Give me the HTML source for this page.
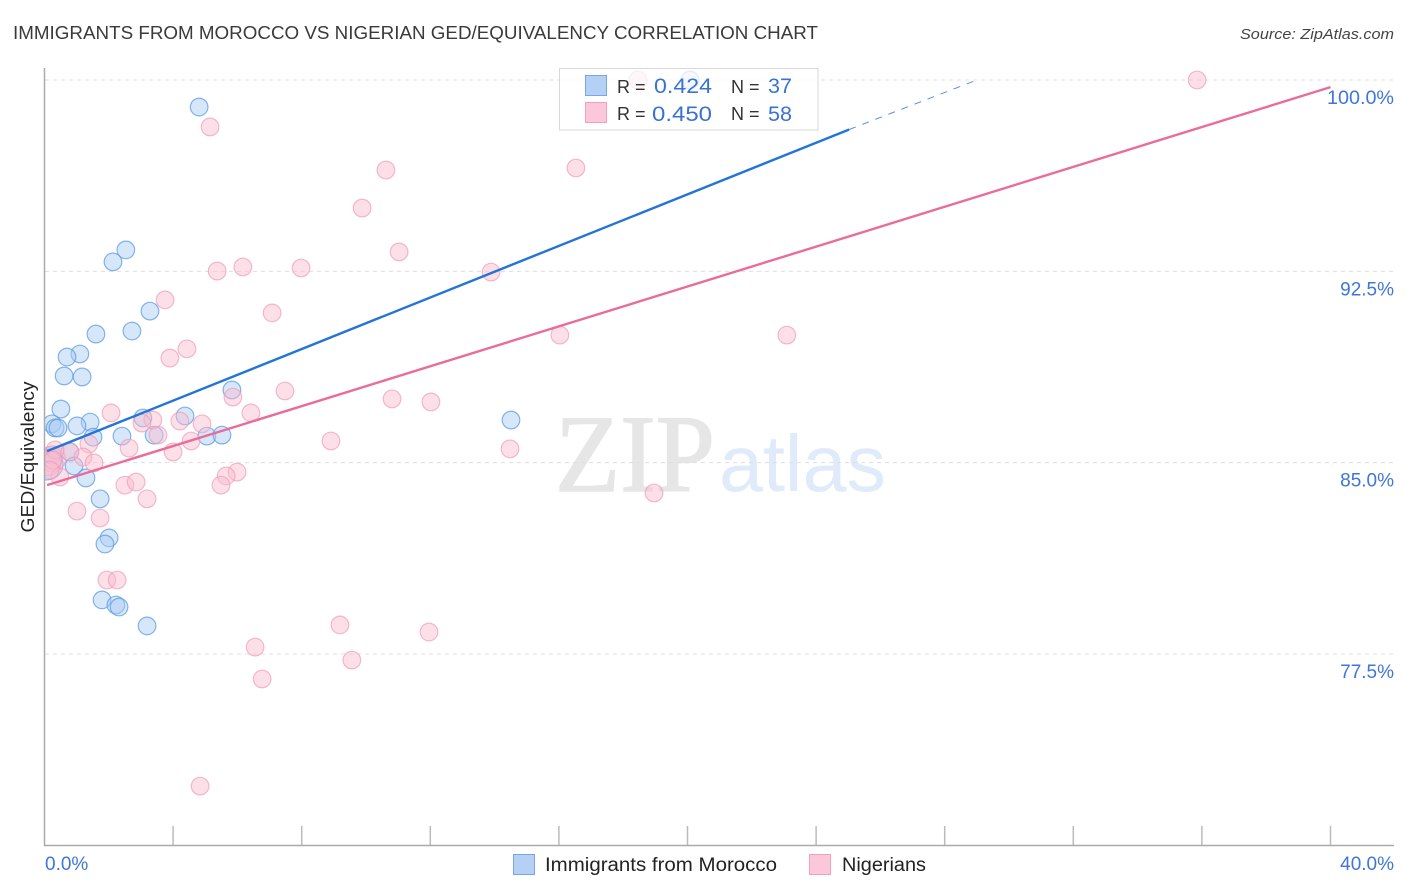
<!DOCTYPE html>
<html lang="en">
<head>
<meta charset="utf-8">
<title>Immigrants from Morocco vs Nigerian GED/Equivalency Correlation Chart</title>
<style>
html,body{margin:0;padding:0;background:#fff;width:1406px;height:892px;overflow:hidden}
svg{display:block;font-family:"Liberation Sans",sans-serif}
</style>
</head>
<body>
<svg id="chart" width="1406" height="892" viewBox="0 0 1406 892" xmlns="http://www.w3.org/2000/svg">
  <defs>
    <clipPath id="plot-clip"><rect x="45" y="60" width="1349" height="785"/></clipPath>
  </defs>
  <rect x="0" y="0" width="1406" height="892" fill="#ffffff"/>
  <text x="13" y="39" font-size="18" fill="#3a3a3a" textLength="805" lengthAdjust="spacingAndGlyphs">IMMIGRANTS FROM MOROCCO VS NIGERIAN GED/EQUIVALENCY CORRELATION CHART</text>
  <text x="1394" y="39" font-size="15" font-style="italic" fill="#444444" text-anchor="end" textLength="154" lengthAdjust="spacingAndGlyphs">Source: ZipAtlas.com</text>

  <g>
    <text x="555" y="491" font-family="'Liberation Serif',serif" font-size="110" fill="#e6e6e6" stroke="#e6e6e6" stroke-width="1.5" textLength="160" lengthAdjust="spacingAndGlyphs">ZIP</text>
    <text x="719" y="491" font-size="80" fill="#dfeafa" textLength="167" lengthAdjust="spacingAndGlyphs">atlas</text>
  </g>

  <g id="grid"></g>
  <g id="x-ticks"></g>
  <g id="points" clip-path="url(#plot-clip)"></g>
  <g id="trends" clip-path="url(#plot-clip)"></g>
  <line x1="44.5" y1="68" x2="44.5" y2="846" stroke="#aaaaaa" stroke-width="1.5"/>
  <line x1="44" y1="845.5" x2="1394" y2="845.5" stroke="#aaaaaa" stroke-width="1.5"/>
  <g id="y-labels"></g>
  <g id="x-labels"></g>
  <text x="0" y="0" transform="translate(34,457) rotate(-90)" font-size="18" fill="#222222" text-anchor="middle" textLength="151" lengthAdjust="spacingAndGlyphs">GED/Equivalency</text>

  <g>
    <rect x="559.5" y="68.5" width="258.500" height="61.500" fill="#ffffff" fill-opacity="0.75" stroke="#d9d9d9" stroke-width="1"/>
    <rect x="585.500" y="75.500" width="21" height="20" fill="#b5d0f5" stroke="#7ba6e6" stroke-width="1"/>
    <rect x="585.500" y="102.500" width="21" height="20" fill="#fcc8d9" stroke="#f0a0bb" stroke-width="1"/>
    <text x="617" y="93" font-size="18" fill="#333333">R =</text>
    <text x="654" y="93" font-size="21" fill="#3a72d4" textLength="58" lengthAdjust="spacingAndGlyphs">0.424</text>
    <text x="731" y="93" font-size="18" fill="#333333">N =</text>
    <text x="768" y="93" font-size="21" fill="#3a72d4" textLength="24" lengthAdjust="spacingAndGlyphs">37</text>
    <text x="617" y="120" font-size="18" fill="#333333">R =</text>
    <text x="652" y="121" font-size="21" fill="#3a72d4" textLength="60" lengthAdjust="spacingAndGlyphs">0.450</text>
    <text x="731" y="120" font-size="18" fill="#333333">N =</text>
    <text x="768" y="121" font-size="21" fill="#3a72d4" textLength="24" lengthAdjust="spacingAndGlyphs">58</text>
  </g>

  <g>
    <rect x="513.500" y="854.500" width="21" height="20" fill="#b5d0f5" stroke="#7ba6e6" stroke-width="1"/>
    <text x="545" y="871" font-size="19" fill="#222222" textLength="232" lengthAdjust="spacingAndGlyphs">Immigrants from Morocco</text>
    <rect x="809.500" y="854.500" width="21" height="20" fill="#fcc8d9" stroke="#f0a0bb" stroke-width="1"/>
    <text x="842" y="871" font-size="19" fill="#222222" textLength="84" lengthAdjust="spacingAndGlyphs">Nigerians</text>
  </g>
</svg>
<script>
var yTicks = [100, 92.5, 85, 77.5];
var yTickLabels = ["100.0%", "92.5%", "85.0%", "77.5%"];
var xTickValues = [0, 4, 8, 12, 16, 20, 24, 28, 32, 36, 40];
var xEndValues = [0, 40];
var xEndLabels = ["0.0%", "40.0%"];

var moroccoX = [4.81,2.53,2.13,3.28,2.72,1.60,1.10,0.70,0.61,1.17,5.83,0.51,1.42,1.01,0.23,0.33,0.42,3.06,4.37,14.51,2.41,1.51,3.41,5.05,5.52,0.79,0.92,0.23,1.29,1.73,2.01,1.88,1.79,2.22,2.32,3.19,20.08];
var moroccoY = [98.94,93.34,92.87,90.94,90.16,90.04,89.26,89.14,88.40,88.36,87.85,87.10,86.59,86.44,86.52,86.36,86.36,86.75,86.83,86.67,86.04,86.00,86.08,86.04,86.08,85.42,84.87,85.30,84.40,83.58,82.05,81.81,79.62,79.42,79.34,78.60,100.0];
var moroccoClusterX = [0.08];
var moroccoClusterY = [84.95];

var nigerianX = [2.07,5.86,7.48,6.42,4.90,4.21,3.37,3.03,3.53,1.38,2.63,4.56,4.00,0.79,1.20,1.54,0.33,0.26,0.48,0.17,2.50,2.85,3.19,1.01,1.73,5.99,5.65,5.49,1.94,2.26,5.15,10.62,9.88,11.03,5.37,6.17,7.98,3.75,7.08,13.89,16.53,3.90,4.43,16.03,23.09,10.81,12.02,8.91,14.48,18.96,9.19,9.56,11.96,6.55,6.77,4.84,18.46,35.85];
var nigerianY = [86.95,87.57,87.81,86.95,86.52,86.63,86.67,86.55,86.08,85.73,85.57,85.85,85.42,85.42,85.22,84.99,85.50,85.10,84.44,84.71,84.12,84.24,83.58,83.10,82.83,84.63,84.48,84.12,80.40,80.40,98.16,96.47,94.98,93.26,92.51,92.67,92.63,91.38,90.87,92.47,96.55,89.10,89.46,90.00,90.00,87.50,87.38,85.85,85.54,83.81,78.64,77.26,78.36,77.77,76.52,72.32,100.0,100.0];
var nigerianClusterX = [0.25, 0.1];
var nigerianClusterY = [85.15, 85.0];

var moroccoTrendX = [0.08, 25.03];
var moroccoTrendY = [85.45, 98.06];
var moroccoDashX = [25.03, 29.0];
var moroccoDashY = [98.06, 100.0];
var nigerianTrendX = [0.08, 40.0];
var nigerianTrendY = [84.12, 99.72];

var NS = "http://www.w3.org/2000/svg";
function xScale(v) { return 44.5 + v * 32.15; }
function yScale(v) { return 80 + (100 - v) * 25.51; }
function make(tag, attrs, parent) {
  var el = document.createElementNS(NS, tag);
  for (var k in attrs) { el.setAttribute(k, attrs[k]); }
  parent.appendChild(el);
  return el;
}

var gridG = document.getElementById("grid");
var yLabelG = document.getElementById("y-labels");
yTicks.forEach(function (t, i) {
  var gl = make("line", {x1: 45, x2: 1394, y1: yScale(t), y2: yScale(t), stroke: "#dfdfdf", "stroke-width": 1, "stroke-dasharray": "4 4"}, gridG);
  
  
  var lb = make("text", {x: 1394, y: yScale(t) + 24, "font-size": 19, fill: "#3f76d8", "text-anchor": "end"}, yLabelG);
  lb.textContent = yTickLabels[i];
  if (i === 0) { lb.setAttribute("textLength", 67); lb.setAttribute("lengthAdjust", "spacingAndGlyphs"); }
  
  
});

var xTickG = document.getElementById("x-ticks");
xTickValues.forEach(function (t) {
  if (t === 0) { return; }
  var tk = make("line", {x1: xScale(t), x2: xScale(t), y1: 826, y2: 845, stroke: "#bbbbbb", "stroke-width": 1.5}, xTickG);
  
  
});

var xLabelG = document.getElementById("x-labels");
xEndValues.forEach(function (t, i) {
  var lb = make("text", {x: i === 0 ? xScale(t) + 0.5 : 1394, y: 870, "font-size": 19, fill: "#3f76d8", "text-anchor": i === 0 ? "start" : "end"}, xLabelG);
  lb.textContent = xEndLabels[i];
  
  
});

var pointsG = document.getElementById("points");
var blueStyle = {fill: "#a9cbf5", "fill-opacity": 0.47, stroke: "#5b9be6", "stroke-opacity": 0.75, "stroke-width": 1.2};
var pinkStyle = {fill: "#fbbccf", "fill-opacity": 0.47, stroke: "#ee9db8", "stroke-opacity": 0.7, "stroke-width": 1.2};
function drawPoint(xv, yv, r, style, parent) {
  var attrs = {cx: xScale(xv), cy: yScale(yv), r: r};
  for (var k in style) { attrs[k] = style[k]; }
  return make("circle", attrs, parent);
}
moroccoClusterX.forEach(function (v, i) {
  var c = drawPoint(v, moroccoClusterY[i], 16, blueStyle, pointsG);
  
  
});
moroccoX.forEach(function (v, i) {
  var c = drawPoint(v, moroccoY[i], 8.8, blueStyle, pointsG);
  
  
});
nigerianClusterX.forEach(function (v, i) {
  var c = drawPoint(v, nigerianClusterY[i], 13, pinkStyle, pointsG);
  
  
});
nigerianX.forEach(function (v, i) {
  var c = drawPoint(v, nigerianY[i], 8.8, pinkStyle, pointsG);
  
  
});

var trendG = document.getElementById("trends");
var lineBlue = make("line", {x1: xScale(moroccoTrendX[0]), y1: yScale(moroccoTrendY[0]), x2: xScale(moroccoTrendX[1]), y2: yScale(moroccoTrendY[1]), stroke: "#2474d8", "stroke-width": 2.4}, trendG);


var lineDash = make("line", {x1: xScale(moroccoDashX[0]), y1: yScale(moroccoDashY[0]), x2: xScale(moroccoDashX[1]), y2: yScale(moroccoDashY[1]), stroke: "#5c8fd6", "stroke-width": 1, "stroke-dasharray": "7 7"}, trendG);


var linePink = make("line", {x1: xScale(nigerianTrendX[0]), y1: yScale(nigerianTrendY[0]), x2: xScale(nigerianTrendX[1]), y2: yScale(nigerianTrendY[1]), stroke: "#e96d9a", "stroke-width": 2.4}, trendG);


</script>
</body>
</html>
